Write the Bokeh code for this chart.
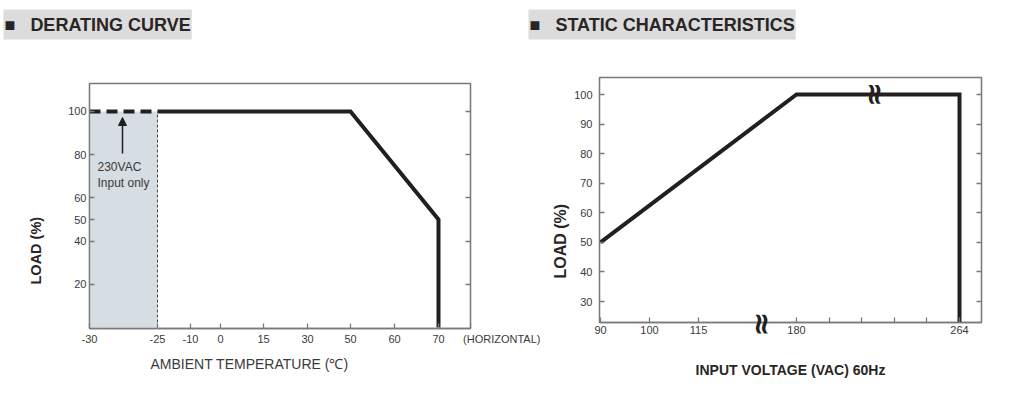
import numpy as np
from bokeh.plotting import figure
from bokeh.models import (Range1d, FixedTicker, LinearAxis, Label, Arrow,
                          NormalHead, Title)
from bokeh.layouts import row
from bokeh.embed import file_html
from bokeh.resources import INLINE

# ---------------- data ----------------
# Derating curve
TEMP_TICKS = [-30, -25, -10, 0, 15, 30, 50, 60, 70]
LOAD_TICKS_L = [20, 40, 50, 60, 80, 100]
LOAD_TICKS_L_RIGHT = [20, 40, 60, 80, 100]
derate_temp = [-25, 50, 70, 70]
derate_load = [100, 100, 50, 0]
only230_temp = [-30, -25]
only230_load = [100, 100]
shade_temp = [-30, -25]
shade_load = [0, 100]

# Static characteristics
VOLT_TICKS = [90, 100, 115, 180, 264]
LOAD_TICKS_S = [30, 40, 50, 60, 70, 80, 90, 100]
static_volt = [90, 180, 264, 264]
static_load = [50, 100, 100, 0]

# ---------------- axis layout (non-linear printed scales) ----------------
TEMP_AXIS_POS = [0, 68, 101, 131, 174, 218, 261, 305, 349]   # px along frame
VOLT_AXIS_POS = [1, 50, 99, 197, 360]
VOLT_MINOR_POS = list(np.linspace(197, 360, 6)[1:-1])


def warp_t(t):
    return list(np.interp(t, TEMP_TICKS, TEMP_AXIS_POS))


def warp_v(v):
    return list(np.interp(v, VOLT_TICKS, VOLT_AXIS_POS))


INK = "#231f20"
AX = "#7a7a7a"
TXT = "#3a3a3a"
FONT = "Liberation Sans"
NBSP = "\u00a0"


def style_axis(ax, standoff=4):
    ax.axis_line_color = AX
    ax.axis_line_width = 1.3
    ax.major_tick_line_color = AX
    ax.major_tick_line_width = 1.3
    ax.major_tick_in = 5
    ax.major_tick_out = 0
    ax.minor_tick_line_color = AX
    ax.minor_tick_line_width = 1.3
    ax.minor_tick_in = 5
    ax.minor_tick_out = 0
    ax.major_label_text_font = FONT
    ax.major_label_text_font_size = "11px"
    ax.major_label_text_color = TXT
    ax.major_label_standoff = standoff


def side_ticks(ticks):
    ax = LinearAxis(ticker=FixedTicker(ticks=[], minor_ticks=ticks))
    style_axis(ax)
    return ax


def make_title(text, size, bold=True, color="#2a2525", **kw):
    t = Title(text=text, text_font=FONT, text_font_size=size,
              text_font_style="bold" if bold else "normal", text_color=color, **kw)
    return t


def add_header(p, text, offset, gap):
    # spacer keeps the header box up at the top of the canvas
    p.add_layout(Title(text=NBSP, text_font_size="1px", standoff=gap), "above")
    h = make_title("■" + NBSP * 3 + text, "18px", align="left", offset=offset,
                   standoff=2, background_fill_color="#dcdcdc", padding=(1, 5))
    p.add_layout(h, "above")


# ---------------- left: derating curve ----------------
# frame (page px): x 89..470, y 83..328 ; figure shifted down by 6px
p1 = figure(width=540, height=388, x_range=Range1d(0, 381),
            y_range=Range1d(-0.46, 112.96), output_backend="svg",
            toolbar_location=None, min_border_left=89, min_border_right=70,
            min_border_top=77, min_border_bottom=66, margin=(6, 0, 0, 0))
p1.grid.visible = False
p1.outline_line_color = AX
p1.outline_line_width = 1.3


def lx(px):
    return px - 89


def ly(py):
    return 112.96 - (py - 83) / 2.16


xa = p1.xaxis[0]
xa.ticker = FixedTicker(ticks=TEMP_AXIS_POS + [381])
ovr = {pos: str(t) for pos, t in zip(TEMP_AXIS_POS, TEMP_TICKS)}
ovr[381] = NBSP * 21 + "(HORIZONTAL)"
xa.major_label_overrides = ovr
style_axis(xa, standoff=4)

ya = p1.yaxis[0]
ya.ticker = FixedTicker(ticks=LOAD_TICKS_L)
style_axis(ya, standoff=3)

p1.add_layout(side_ticks(LOAD_TICKS_L_RIGHT), "right")

p1.quad(left=warp_t([shade_temp[0]])[0], right=warp_t([shade_temp[1]])[0],
        bottom=shade_load[0], top=shade_load[1], fill_color="#d6dde3",
        line_color=None)
p1.line(warp_t([shade_temp[1], shade_temp[1]]), shade_load, line_color="#444444",
        line_width=1, line_dash="3 2")
p1.line(warp_t(only230_temp), only230_load, line_color=INK, line_width=4,
        line_dash="11 6")
p1.line(warp_t(derate_temp), derate_load, line_color=INK, line_width=4,
        line_join="miter")

p1.add_layout(Arrow(end=NormalHead(size=8, fill_color=INK, line_color=INK),
                    x_start=lx(122), y_start=ly(153), x_end=lx(122), y_end=ly(117),
                    line_color=INK, line_width=1.5))
p1.add_layout(Label(x=lx(97), y=ly(173), text="230VAC",
                    text_font=FONT, text_font_size="12px", text_color=TXT))
p1.add_layout(Label(x=lx(97), y=ly(189), text="Input only",
                    text_font=FONT, text_font_size="12px", text_color=TXT))

add_header(p1, "DERATING CURVE", offset=-86, gap=40)
p1.add_layout(make_title("LOAD (%)", "14.5px", align="left", offset=44, standoff=44), "left")
p1.add_layout(make_title("AMBIENT TEMPERATURE (℃)", "14px", bold=False, color=TXT,
                         align="left", offset=61, standoff=12), "below")

# ---------------- right: static characteristics ----------------
# frame (page px): x 599..981, y 77..322
YS_R = 207 / 70.0


def rx(px):
    return px - 599


def ry(py):
    return 30 + (301 - py) / YS_R


p2 = figure(width=492, height=388, x_range=Range1d(0, 382),
            y_range=Range1d(ry(322), ry(77)), output_backend="svg",
            toolbar_location=None, min_border_left=79, min_border_right=31,
            min_border_top=77, min_border_bottom=66, margin=(0, 0, 0, -20))
p2.grid.visible = False
p2.outline_line_color = AX
p2.outline_line_width = 1.3
p2.background_fill_alpha = 0
p2.border_fill_alpha = 0

xb = p2.xaxis[0]
xb.ticker = FixedTicker(ticks=VOLT_AXIS_POS, minor_ticks=VOLT_MINOR_POS)
xb.major_label_overrides = {pos: str(v) for pos, v in zip(VOLT_AXIS_POS, VOLT_TICKS)}
style_axis(xb, standoff=3)

yb = p2.yaxis[0]
yb.ticker = FixedTicker(ticks=LOAD_TICKS_S)
style_axis(yb, standoff=7)

p2.add_layout(side_ticks(LOAD_TICKS_S), "right")

# axis-break mark on the x axis + x axis title
brk = LinearAxis(ticker=FixedTicker(ticks=[rx(760)]))
brk.major_label_overrides = {rx(760): "≈"}
brk.major_label_orientation = np.pi / 2
brk.axis_line_color = None
brk.major_tick_line_color = None
brk.minor_tick_line_color = None
brk.major_label_text_font = "DejaVu Sans"
brk.major_label_text_font_style = "bold"
brk.major_label_text_font_size = "30px"
brk.major_label_text_color = INK
brk.major_label_standoff = -31
brk.axis_label = "INPUT VOLTAGE (VAC) 60Hz"
brk.axis_label_standoff = 22
brk.axis_label_text_font = FONT
brk.axis_label_text_font_style = "bold"
brk.axis_label_text_font_size = "14px"
brk.axis_label_text_color = "#2a2525"
p2.add_layout(brk, "below")

p2.line(warp_v(static_volt), static_load, line_color=INK, line_width=4,
        line_join="miter")
p2.add_layout(Label(x=rx(873), y=ry(94), text="≈", angle=np.pi / 2,
                    text_align="center", text_baseline="middle",
                    text_font="DejaVu Sans", text_font_style="bold",
                    text_font_size="30px", text_color=INK))

add_header(p2, "STATIC CHARACTERISTICS", offset=-71, gap=34)
p2.add_layout(make_title("LOAD (%)", "16px", align="left", offset=44, standoff=6), "left")

layout = row(p1, p2)
open("out.html", "w").write(file_html(layout, INLINE))
